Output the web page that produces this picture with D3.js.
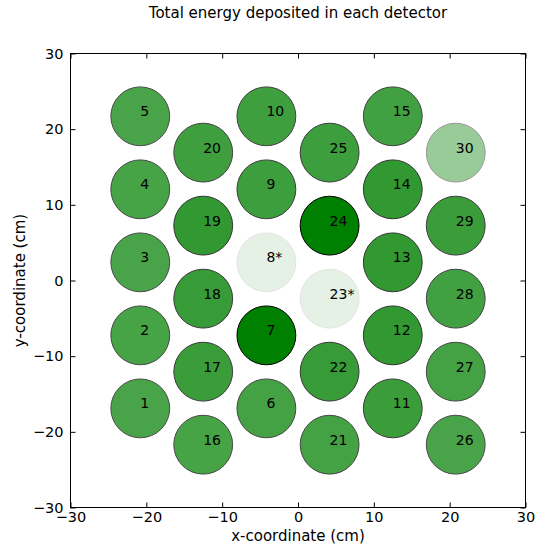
<!DOCTYPE html>
<html>
<head>
<meta charset="utf-8">
<script src="https://cdn.jsdelivr.net/npm/d3@7"></script>
<style>
  body { margin: 0; background: #fff; }
  svg text { font-family: "DejaVu Sans", sans-serif; fill: #000; }
</style>
</head>
<body>
<svg id="chart" width="537" height="552"></svg>
<script>
var svg = d3.select('#chart');

// detector layout (cm) and total energy, as fraction of max (drives opacity)
var detectorIds = [1,2,3,4,5, 6,7,8,9,10, 11,12,13,14,15, 16,17,18,19,20, 21,22,23,24,25, 26,27,28,29,30];
var detectorX = [-20.8,-20.8,-20.8,-20.8,-20.8, -4.17,-4.17,-4.17,-4.17,-4.17, 12.5,12.5,12.5,12.5,12.5,
                 -12.5,-12.5,-12.5,-12.5,-12.5, 4.17,4.17,4.17,4.17,4.17, 20.8,20.8,20.8,20.8,20.8];
var detectorY = [-16.9,-7.25,2.4,12.05,21.7, -16.9,-7.25,2.4,12.05,21.7, -16.9,-7.25,2.4,12.05,21.7,
                 -21.7,-12.05,-2.4,7.25,16.9, -21.7,-12.05,-2.4,7.25,16.9, -21.7,-12.05,-2.4,7.25,16.9];
var energy = [0.71,0.72,0.71,0.72,0.71, 0.73,1.0,0.1,0.76,0.75, 0.77,0.8,0.8,0.8,0.74,
              0.72,0.77,0.78,0.8,0.75, 0.73,0.78,0.1,1.0,0.76, 0.71,0.73,0.74,0.77,0.4];
var flagged = [8, 23];
var detectorRadius = 3.88;

var xTicks = [-30,-20,-10,0,10,20,30];
var yTicks = [-30,-20,-10,0,10,20,30];

var plotLeft = 70.5, plotRight = 525.5, plotTop = 53.5, plotBottom = 507.5;

var x = d3.scaleLinear().domain([-30, 30]).range([plotLeft, plotRight]);
var y = d3.scaleLinear().domain([-30, 30]).range([plotBottom, plotTop]);

var detectors = detectorIds.map(function(id, i) {
    return {id: id, x: detectorX[i], y: detectorY[i], e: energy[i],
            label: flagged.includes(id) ? id + '*' : '' + id};
});

//-----------------------------------------------------------------------------
var g = svg.append('g');

g.selectAll('.det')
    .data(detectors)
    .enter().append('circle')
    .attr('class', 'det')
    .attr('cx', function(d) { return x(d.x); })
    .attr('cy', function(d) { return y(d.y); })
    .attr('r', function(d) { return x(detectorRadius) - x(0); })
    .style('fill', 'green')
    .style('stroke', '#000')
    .style('stroke-width', 1)
    .style('opacity', function(d) { return d.e; });

g.selectAll('.det-label')
    .data(detectors)
    .enter().append('text')
    .attr('class', 'det-label')
    .attr('x', function(d) { return x(d.x); })
    .attr('y', function(d) { return y(d.y); })
    .style('font-size', '14px')
    .text(function(d) { return d.label; });

//-----------------------------------------------------------------------------
// axes: inward ticks on all four sides, matplotlib classic style
var fmt = d3.format('');
svg.append('g')
    .attr('transform', 'translate(0,' + plotBottom + ')')
    .call(d3.axisBottom(x).tickValues(xTicks).tickSize(-5).tickPadding(4.5).tickFormat(fmt))
    .call(function(a) { a.select('.domain').remove(); });
svg.append('g')
    .attr('transform', 'translate(0,' + plotTop + ')')
    .call(d3.axisTop(x).tickValues(xTicks).tickSize(-5).tickFormat(''))
    .call(function(a) { a.select('.domain').remove(); });
svg.append('g')
    .attr('transform', 'translate(' + plotLeft + ',0)')
    .call(d3.axisLeft(y).tickValues(yTicks).tickSize(-5).tickPadding(7).tickFormat(fmt))
    .call(function(a) { a.select('.domain').remove(); });
svg.append('g')
    .attr('transform', 'translate(' + plotRight + ',0)')
    .call(d3.axisRight(y).tickValues(yTicks).tickSize(-5).tickFormat(''))
    .call(function(a) { a.select('.domain').remove(); });

svg.selectAll('.tick line').style('stroke', '#000');
svg.selectAll('.tick text').style('font-size', '14.5px').style('font-family', '"DejaVu Sans", sans-serif');

svg.append('rect')
    .attr('x', plotLeft).attr('y', plotTop)
    .attr('width', plotRight - plotLeft).attr('height', plotBottom - plotTop)
    .style('fill', 'none').style('stroke', '#000').style('stroke-width', 1);

svg.append('text')
    .attr('x', (plotLeft + plotRight) / 2).attr('y', 18)
    .attr('text-anchor', 'middle')
    .style('font-size', '15px')
    .text('Total energy deposited in each detector');

svg.append('text')
    .attr('x', (plotLeft + plotRight) / 2).attr('y', 541)
    .attr('text-anchor', 'middle')
    .style('font-size', '15px')
    .text('x-coordinate (cm)');

svg.append('text')
    .attr('transform', 'translate(25,' + ((plotTop + plotBottom) / 2) + ') rotate(-90)')
    .attr('text-anchor', 'middle')
    .style('font-size', '15px')
    .text('y-coordinate (cm)');
</script>
</body>
</html>
